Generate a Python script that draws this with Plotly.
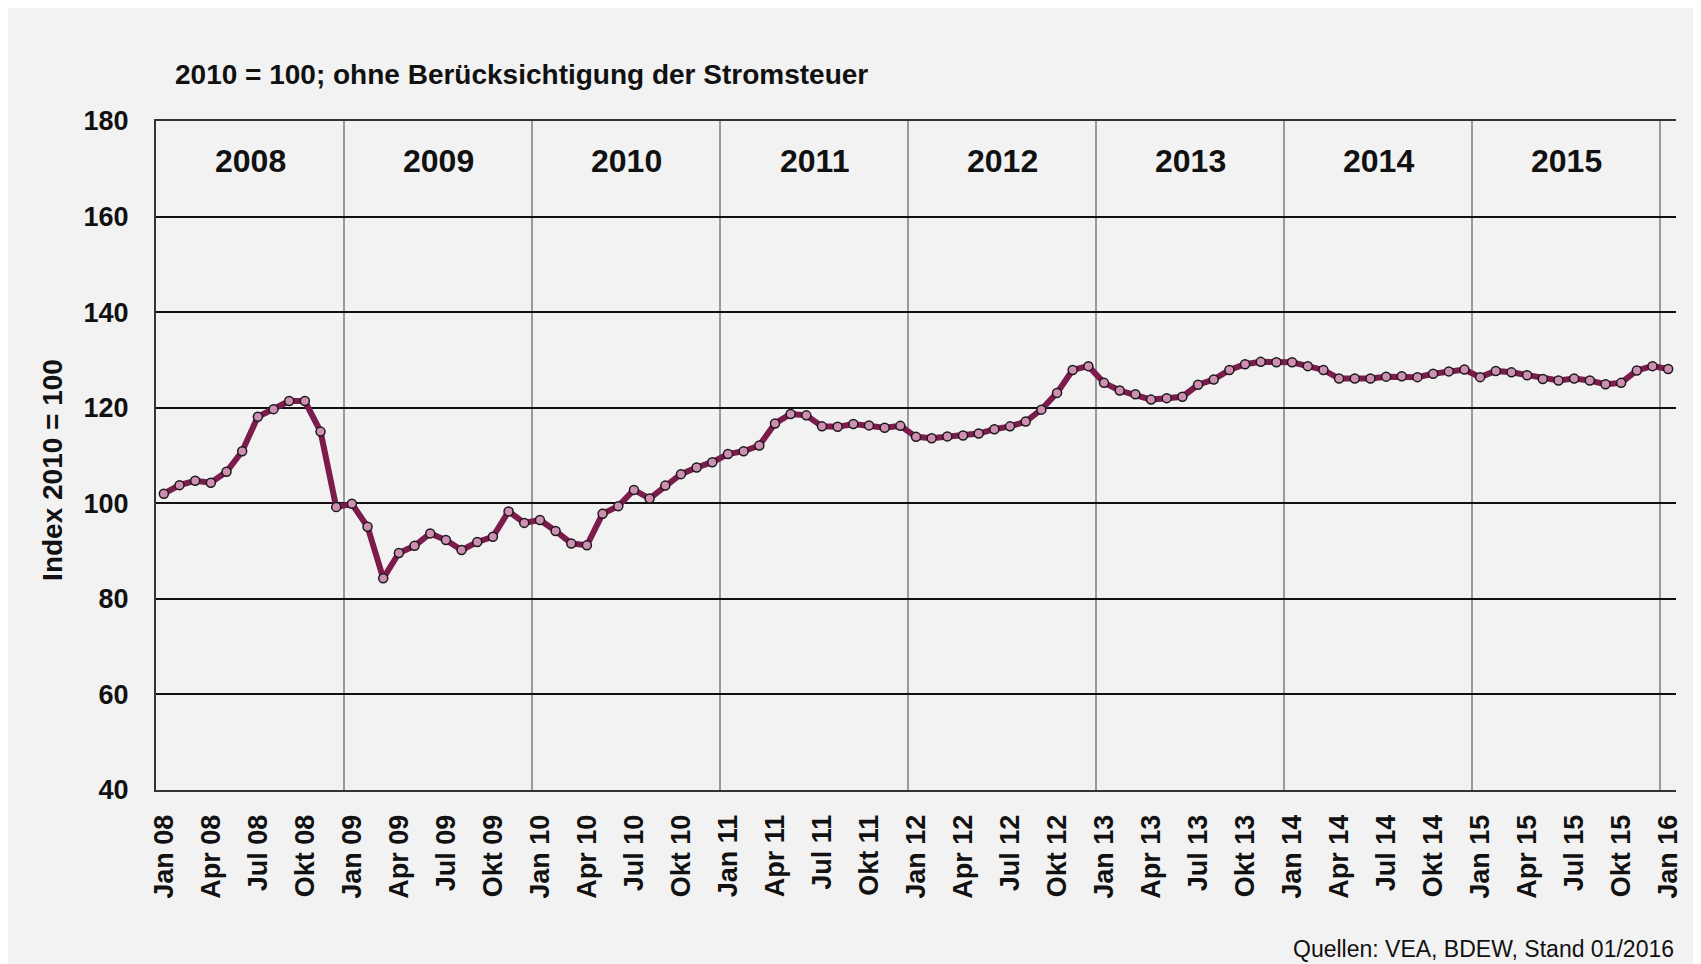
import plotly.graph_objects as go

years = ["2008", "2009", "2010", "2011", "2012", "2013", "2014", "2015"]
month_names = ["Jan", "Feb", "Mär", "Apr", "Mai", "Jun", "Jul", "Aug", "Sep", "Okt", "Nov", "Dez"]

# monthly index values Jan 08 .. Jan 16
index_values = [
    102.0, 103.8, 104.7, 104.3, 106.6, 110.9, 118.1, 119.7, 121.4, 121.4, 115.0, 99.2,   # 2008
    99.9, 95.1, 84.3, 89.6, 91.1, 93.7, 92.3, 90.2, 91.9, 93.0, 98.3, 95.9,               # 2009
    96.5, 94.2, 91.6, 91.2, 97.8, 99.4, 102.8, 101.0, 103.7, 106.1, 107.5, 108.6,         # 2010
    110.3, 110.9, 112.1, 116.7, 118.7, 118.4, 116.1, 116.0, 116.6, 116.3, 115.8, 116.2,   # 2011
    113.9, 113.6, 114.0, 114.2, 114.6, 115.5, 116.1, 117.1, 119.6, 123.1, 127.9, 128.7,   # 2012
    125.2, 123.6, 122.8, 121.7, 122.0, 122.3, 124.8, 125.9, 127.9, 129.1, 129.6, 129.5,   # 2013
    129.5, 128.7, 127.9, 126.1, 126.1, 126.1, 126.5, 126.6, 126.4, 127.1, 127.6, 128.0,   # 2014
    126.4, 127.7, 127.4, 126.8, 126.0, 125.7, 126.1, 125.7, 124.9, 125.2, 127.8, 128.7,   # 2015
    128.1,                                                                                # Jan 16
]

# category labels
all_years = years + ["2016"]
month_labels = []
for y in all_years:
    for m in month_names:
        month_labels.append(f"{m} {y[2:]}")
month_labels = month_labels[:len(index_values)]
x_idx = list(range(len(index_values)))

tick_vals = [i for i, lab in enumerate(month_labels) if lab.split()[0] in ("Jan", "Apr", "Jul", "Okt")]
tick_text = [f"<b>{month_labels[i]}</b>" for i in tick_vals]
year_bounds = [i - 0.5 for i, lab in enumerate(month_labels) if lab.startswith("Jan") and i > 0]

FONT = "Liberation Sans, Arial, sans-serif"
PLOT_H = 668.2
B = 174

fig = go.Figure()
fig.add_trace(go.Scatter(
    x=x_idx, y=index_values, mode="lines+markers",
    line=dict(color="#7b1c4c", width=6),
    marker=dict(size=9, color="#cf8fb2", line=dict(color="#1a1a1a", width=1.5)),
    hoverinfo="x+y", showlegend=False,
))

# year labels
for k, yr in enumerate(years):
    fig.add_annotation(x=k * 12 + 5.5, y=171.7, xref="x", yref="y", text=f"<b>{yr}</b>",
                       showarrow=False, font=dict(family=FONT, size=32, color="#111"))

# title
fig.add_annotation(x=0.011, y=1.07, xref="paper", yref="paper", xanchor="left", yanchor="middle",
                   text="<b>2010 = 100; ohne Berücksichtigung der Stromsteuer</b>", showarrow=False,
                   font=dict(family=FONT, size=28, color="#111"))
# y title
fig.add_annotation(x=-0.0682, y=0.479, xref="paper", yref="paper", xanchor="center", yanchor="middle",
                   text="<b>Index 2010 = 100</b>", textangle=-90, showarrow=False,
                   font=dict(family=FONT, size=28, color="#111"))
# source
fig.add_annotation(x=1.0, y=-B / PLOT_H, xref="paper", yref="paper", xanchor="right", yanchor="bottom",
                   text="Quellen: VEA, BDEW, Stand 01/2016", showarrow=False,
                   font=dict(family=FONT, size=23, color="#111"))

fig.update_xaxes(
    range=[-0.5, len(index_values) - 0.5],
    tickmode="array", tickvals=tick_vals, ticktext=tick_text, tickangle=-90,
    tickfont=dict(family=FONT, size=27, color="#111"),
    showgrid=False, zeroline=False, ticks="", ticklabelstandoff=12,
    showline=True, linecolor="#333", linewidth=2, mirror=True,
    minor=dict(tickmode="array", tickvals=year_bounds, showgrid=True, gridcolor="#9a9a9a", gridwidth=2, ticks=""),
)
fig.update_yaxes(
    range=[40, 180], tick0=40, dtick=20,
    tickfont=dict(family=FONT, size=27, color="#111"),
    tickprefix="<b>", ticksuffix="</b>",
    showgrid=True, gridcolor="#111", gridwidth=2, zeroline=False, ticks="",
    ticklabelstandoff=20,
    showline=True, linecolor="#333", linewidth=2,
)
fig.update_layout(
    width=1693, height=956,
    margin=dict(l=148, r=25, t=113, b=B),
    paper_bgcolor="#f2f2f2", plot_bgcolor="#f2f2f2",
    font=dict(family=FONT, color="#111"),
)

fig.write_html("out.html")
